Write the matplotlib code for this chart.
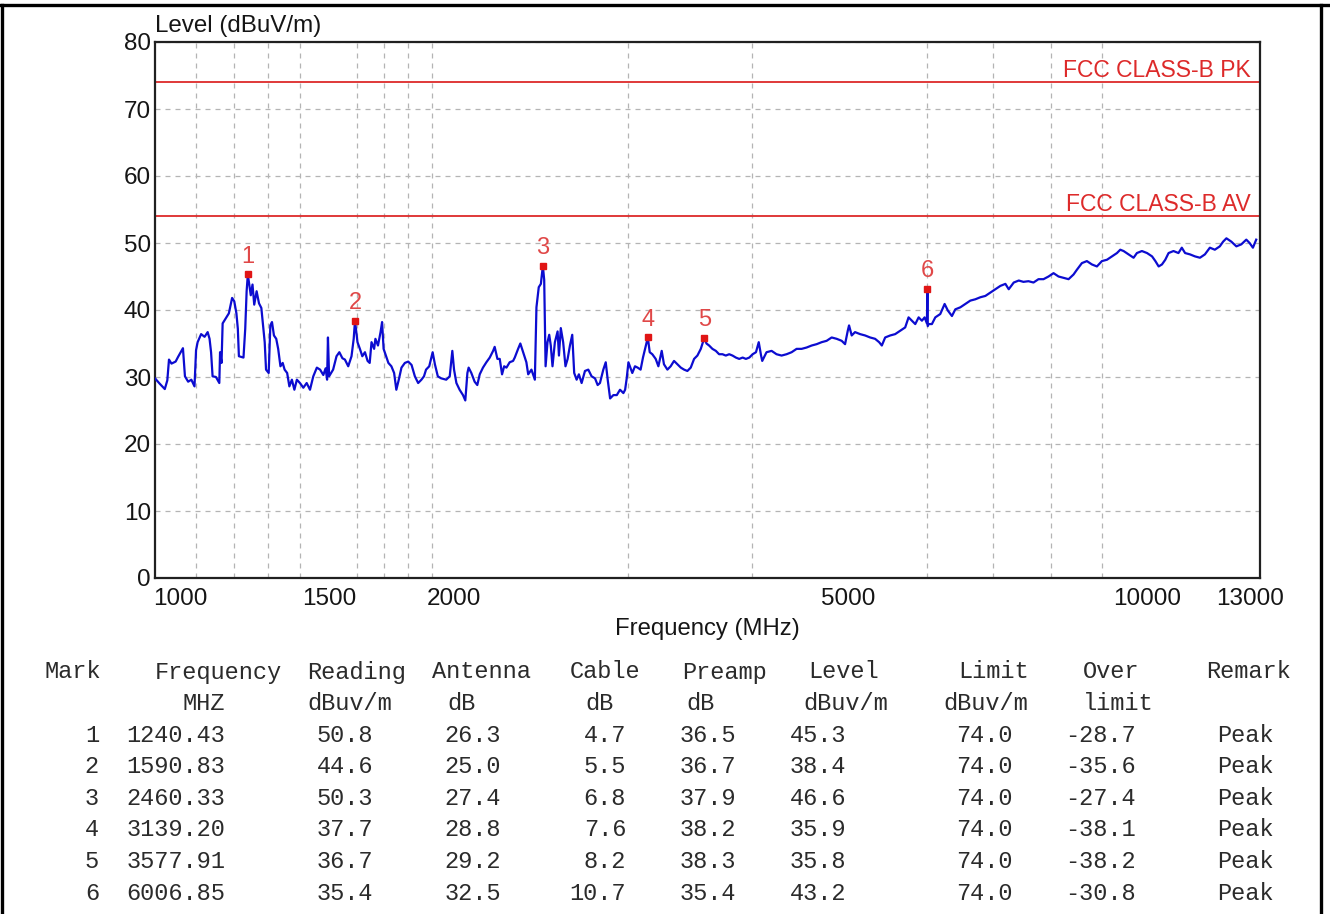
import matplotlib
matplotlib.use("Agg")
import matplotlib.pyplot as plt
import matplotlib.transforms as mtransforms
from matplotlib.lines import Line2D
from matplotlib.ticker import FixedLocator, FixedFormatter, NullFormatter

# Spectrum trace: (frequency MHz, level dBuV/m)
trace_1g_2g = [
    (1000, 29.8), (1011, 29.0), (1023, 28.2), (1029, 29.5), (1033, 32.6), (1039, 32.0),
    (1049, 32.3), (1055, 33.0), (1067, 34.3), (1072, 30.1), (1080, 29.3), (1088, 29.6),
    (1096, 28.6), (1100, 34.0), (1104, 35.2), (1113, 36.4), (1122, 36.0), (1130, 36.7),
    (1135, 35.7), (1139, 33.7), (1143, 30.1), (1152, 30.0), (1161, 29.1), (1163, 33.7),
    (1167, 32.1), (1170, 38.0), (1178, 38.7), (1187, 39.5), (1196, 41.8), (1202, 41.3),
    (1208, 39.5), (1212, 37.2), (1215, 33.1), (1228, 32.9), (1233, 37.2), (1237, 42.8),
    (1240.43, 45.3), (1249, 42.2), (1254, 43.8), (1259, 40.8), (1266, 42.8), (1273, 41.0),
    (1280, 40.3), (1284, 38.2), (1290, 35.2), (1294, 31.1), (1302, 30.6), (1307, 37.7),
    (1312, 38.2), (1318, 36.2), (1325, 35.7), (1331, 34.2), (1338, 31.6), (1345, 32.1),
    (1351, 31.1), (1359, 30.6), (1366, 28.6), (1374, 29.6), (1382, 28.1), (1390, 29.6),
    (1400, 29.1), (1411, 28.4), (1422, 29.1), (1433, 28.1), (1444, 30.1), (1456, 31.4),
    (1467, 31.1), (1478, 30.3), (1486, 31.3), (1491, 29.6), (1494, 35.9), (1498, 30.1),
    (1512, 31.1), (1524, 33.1), (1534, 33.7), (1545, 32.8), (1554, 32.6), (1566, 31.6),
    (1578, 33.1), (1586, 35.7), (1590.83, 38.4), (1600, 35.2), (1609, 34.2), (1618, 33.1),
    (1628, 33.7), (1638, 32.4), (1646, 32.1), (1653, 35.2), (1663, 34.2), (1668, 35.7),
    (1678, 34.7), (1688, 36.7), (1694, 38.2), (1700, 34.2), (1710, 33.1), (1719, 32.1),
    (1731, 31.6), (1742, 30.6), (1751, 28.1), (1761, 29.6), (1772, 31.4), (1786, 32.1),
    (1800, 32.3), (1814, 31.8), (1828, 30.1), (1842, 29.1), (1856, 29.6), (1867, 30.1),
    (1876, 31.1), (1890, 31.6), (1905, 33.7), (1915, 31.9), (1928, 30.1), (1943, 29.8),
    (1966, 29.6), (1982, 30.1), (1994, 33.9), (2002, 31.1),
]
trace_2g_4g = [
    (2013, 29.1), (2028, 28.1), (2044, 27.3), (2055, 26.5), (2065, 30.6), (2071, 31.4),
    (2084, 30.6), (2100, 29.3), (2113, 28.8), (2125, 30.4), (2141, 31.4), (2158, 32.2),
    (2175, 32.9), (2192, 33.9), (2200, 34.5), (2214, 32.7), (2226, 32.7), (2238, 30.4),
    (2249, 31.6), (2261, 31.4), (2278, 32.2), (2296, 32.4), (2305, 32.9), (2323, 34.2),
    (2335, 35.0), (2350, 33.7), (2368, 32.2), (2378, 30.4), (2396, 31.1), (2415, 29.6),
    (2424, 40.4), (2437, 43.4), (2449, 43.9), (2460.33, 46.6), (2468, 44.5), (2476, 31.6),
    (2487, 35.2), (2497, 36.3), (2506, 34.7), (2516, 31.6), (2530, 35.2), (2546, 36.8),
    (2554, 33.2), (2565, 37.3), (2579, 35.2), (2593, 31.6), (2606, 32.7), (2620, 34.7),
    (2634, 36.3), (2646, 30.6), (2661, 29.6), (2675, 30.4), (2692, 29.1), (2713, 30.9),
    (2734, 31.1), (2755, 30.1), (2777, 29.8), (2794, 28.8), (2809, 29.1), (2831, 31.1),
    (2847, 32.2), (2860, 29.6), (2876, 26.8), (2898, 27.3), (2921, 27.3), (2943, 28.1),
    (2966, 27.6), (2978, 28.1), (2989, 29.8), (3001, 32.2), (3028, 30.6), (3047, 31.6),
    (3066, 31.4), (3087, 31.1), (3104, 32.9), (3119, 34.2), (3139.20, 35.9), (3153, 33.7),
    (3172, 33.4), (3197, 32.7), (3217, 31.6), (3242, 33.9), (3259, 31.9), (3285, 31.1),
    (3310, 31.6), (3336, 32.4), (3362, 31.9), (3389, 31.4), (3415, 31.1), (3441, 30.9),
    (3468, 31.4), (3495, 32.7), (3522, 33.2), (3550, 34.2), (3577.91, 35.8), (3597, 35.0),
    (3619, 34.7), (3647, 34.2), (3676, 33.9), (3704, 33.4), (3733, 33.4), (3762, 33.2),
    (3792, 33.4), (3821, 33.2), (3851, 32.9), (3881, 32.7), (3912, 32.9), (3942, 32.7),
    (3973, 32.9), (4004, 33.4), (4035, 33.7), (4061, 35.2), (4083, 33.2),
]
trace_4g_13g = [
    (4094, 32.4), (4135, 33.7), (4184, 33.9), (4232, 33.4), (4282, 33.2), (4332, 33.4),
    (4383, 33.7), (4434, 34.2), (4486, 34.2), (4538, 34.4), (4592, 34.7), (4645, 34.9),
    (4700, 35.2), (4754, 35.4), (4810, 35.9), (4866, 35.7), (4923, 35.4), (4962, 34.9),
    (4993, 36.9), (5008, 37.7), (5039, 36.2), (5078, 36.7), (5138, 36.4), (5198, 36.2),
    (5259, 35.9), (5320, 35.7), (5370, 35.2), (5404, 34.7), (5446, 35.9), (5510, 36.2),
    (5574, 36.4), (5639, 36.9), (5705, 37.4), (5750, 38.9), (5795, 38.4), (5840, 37.9),
    (5886, 38.9), (5931, 38.4), (5968, 38.9), (6000, 38.0), (6006.85, 43.2), (6012, 37.6),
    (6024, 37.9), (6070, 37.9), (6118, 38.9), (6189, 39.4), (6252, 40.9), (6300, 39.9),
    (6359, 39.1), (6409, 40.1), (6484, 40.4), (6560, 40.9), (6636, 41.4), (6714, 41.6),
    (6792, 41.9), (6872, 42.1), (6952, 42.6), (7034, 43.1), (7116, 43.6), (7199, 43.9),
    (7255, 43.1), (7340, 44.1), (7426, 44.4), (7507, 44.2), (7595, 44.3), (7684, 44.1),
    (7774, 44.6), (7865, 44.6), (7957, 45.0), (8050, 45.5), (8144, 45.0), (8239, 44.8),
    (8336, 44.6), (8433, 45.3), (8498, 46.0), (8598, 47.0), (8698, 47.3), (8800, 46.8),
    (8903, 46.5), (9007, 47.3), (9113, 47.5), (9219, 48.0), (9327, 48.5), (9399, 49.0),
    (9472, 48.8), (9582, 48.3), (9694, 47.8), (9769, 48.5), (9883, 48.8), (10002, 48.5),
    (10119, 48.0), (10197, 47.3), (10275, 46.5), (10354, 46.8), (10434, 47.5), (10514, 48.5),
    (10635, 48.8), (10758, 48.5), (10842, 49.3), (10925, 48.5), (11051, 48.3), (11179, 48.0),
    (11309, 47.8), (11439, 48.3), (11572, 49.3), (11706, 49.0), (11842, 49.5), (11933, 50.2),
    (12025, 50.7), (12164, 50.2), (12306, 49.5), (12448, 49.8), (12593, 50.5), (12690, 50.0),
    (12788, 49.3), (12886, 50.5),
]

# marker table
mark_no = [1, 2, 3, 4, 5, 6]
mark_freq = [1240.43, 1590.83, 2460.33, 3139.20, 3577.91, 6006.85]
mark_reading = [50.8, 44.6, 50.3, 37.7, 36.7, 35.4]
mark_antenna = [26.3, 25.0, 27.4, 28.8, 29.2, 32.5]
mark_cable = [4.7, 5.5, 6.8, 7.6, 8.2, 10.7]
mark_preamp = [36.5, 36.7, 37.9, 38.2, 38.3, 35.4]
mark_level = [45.3, 38.4, 46.6, 35.9, 35.8, 43.2]
mark_limit = [74.0, 74.0, 74.0, 74.0, 74.0, 74.0]
mark_over = [-28.7, -35.6, -27.4, -38.1, -38.2, -30.8]
mark_remark = ["Peak", "Peak", "Peak", "Peak", "Peak", "Peak"]

limit_pk = 74
limit_av = 54
limit_pk_label = "FCC CLASS-B PK"
limit_av_label = "FCC CLASS-B AV"

x_tick_values = [1000, 1500, 2000, 5000, 10000, 13000]
x_grid_values = [1100, 1200, 1300, 1400, 1500, 1600, 1700, 1800, 1900, 2000,
                 3000, 4000, 5000, 6000, 7000, 8000, 9000, 10000]
y_tick_values = [0, 10, 20, 30, 40, 50, 60, 70, 80]

col_titles = ["Mark", "Frequency", "Reading", "Antenna", "Cable", "Preamp",
              "Level", "Limit", "Over", "Remark"]
col_units = ["", "MHZ", "dBuv/m", "dB", "dB", "dB", "dBuv/m", "dBuv/m", "limit", ""]

W, H = 1330, 914
fig = plt.figure(figsize=(W / 100, H / 100), dpi=100)
fig.patch.set_facecolor("white")


def fx(px):
    return px / W


def fy(py):
    return 1 - py / H


ax = fig.add_axes([fx(155), fy(578), fx(1260 - 155), (578 - 42) / H])

sans = "Liberation Sans"
text_col = "#151515"
red = "#dd2a2a"

freq = [p[0] for p in trace_1g_2g + trace_2g_4g + trace_4g_13g]
level = [p[1] for p in trace_1g_2g + trace_2g_4g + trace_4g_13g]

ax.plot(freq, level, color="#0c0cd0", lw=1.6, zorder=3)
ax.axhline(limit_pk, color=red, lw=1.3, zorder=2)
ax.axhline(limit_av, color=red, lw=1.3, zorder=2)

ax.plot(mark_freq, mark_level, ls="none", marker="s", ms=5, color="#e01515", zorder=4)
for n, f, lv in zip(mark_no, mark_freq, mark_level):
    ax.annotate(str(n), (f, lv), xytext=(0, 5), textcoords="offset points",
                ha="center", va="bottom", color="#e04848", fontsize=17, family=sans)

ax.set_xscale("log")
ax.set_xlim(1000, 13000)
ax.set_ylim(0, 80)

ax.xaxis.set_major_locator(FixedLocator(x_tick_values))
ax.xaxis.set_major_formatter(FixedFormatter([str(v) for v in x_tick_values]))
ax.xaxis.set_minor_locator(FixedLocator(x_grid_values))
ax.xaxis.set_minor_formatter(NullFormatter())
ax.set_yticks(y_tick_values)

ax.tick_params(which="both", length=0)
ax.tick_params(axis="x", pad=7, labelsize=17.5, labelcolor=text_col)
ax.tick_params(axis="y", pad=3, labelsize=17.5, labelcolor=text_col)
for lab in ax.get_xticklabels() + ax.get_yticklabels():
    lab.set_family(sans)

# shift the end labels like the original
xt = ax.get_xticklabels()
xt[0].set_transform(xt[0].get_transform() + mtransforms.ScaledTranslation(0.25, 0, fig.dpi_scale_trans))
xt[-1].set_transform(xt[-1].get_transform() + mtransforms.ScaledTranslation(-0.10, 0, fig.dpi_scale_trans))

grid_kw = dict(color="#b4b4b4", lw=0.9, ls=(0, (4, 4)))
ax.grid(False)
ax.xaxis.grid(True, which="minor", **grid_kw)
ax.yaxis.grid(True, which="major", **grid_kw)
ax.set_axisbelow(True)

for side in ["left", "bottom", "top", "right"]:
    ax.spines[side].set_color("#202020")
    ax.spines[side].set_linewidth(1.6)

ax.set_xlabel("Frequency (MHz)", fontsize=17.2, family=sans, color=text_col, labelpad=6)
ax.text(0.0, 1.01, "Level (dBuV/m)", transform=ax.transAxes, ha="left", va="bottom",
        fontsize=17.4, family=sans, color=text_col)

blend = mtransforms.blended_transform_factory(ax.transAxes, ax.transData)
for val, lab in [(limit_pk, limit_pk_label), (limit_av, limit_av_label)]:
    ax.annotate(lab, (0.9915, val), xycoords=blend, xytext=(0, 4), textcoords="offset points",
                ha="right", va="baseline", color=red, fontsize=16.5, family=sans)

# table under the chart
mono = "Liberation Mono"
tcol = "#2b2b2b"
tsize = 17
title_x = [45, 155, 307, 432, 570, 682, 808, 958, 1083, 1206]
unit_x = [45, 183, 307, 447, 585, 686, 803, 943, 1083, 1206]
val_right = [99, 225, 373, 501, 626, 736, 846, 1013, 1136, 1274]
for t, u, x0, x1 in zip(col_titles, col_units, title_x, unit_x):
    fig.text(fx(x0), fy(672), t, ha="left", va="center", family=mono, fontsize=tsize, color=tcol)
    if u:
        fig.text(fx(x1), fy(703), u, ha="left", va="center", family=mono, fontsize=tsize, color=tcol)

for i in range(len(mark_no)):
    row = [str(mark_no[i]), "%.2f" % mark_freq[i], "%.1f" % mark_reading[i],
           "%.1f" % mark_antenna[i], "%.1f" % mark_cable[i], "%.1f" % mark_preamp[i],
           "%.1f" % mark_level[i], "%.1f" % mark_limit[i], "%.1f" % mark_over[i],
           mark_remark[i]]
    yy = 735 + i * 31.6
    for s, xr in zip(row, val_right):
        fig.text(fx(xr), fy(yy), s, ha="right", va="center", family=mono, fontsize=tsize, color=tcol)

# outer frame of the report page
for xs, ys in [((0, 1), (fy(5), fy(5))), ((fx(1.5), fx(1.5)), (0, fy(5))),
               ((fx(1321), fx(1321)), (0, fy(5)))]:
    fig.add_artist(Line2D(xs, ys, transform=fig.transFigure, color="black", lw=2.4))

fig.savefig("out.png", dpi=100)
